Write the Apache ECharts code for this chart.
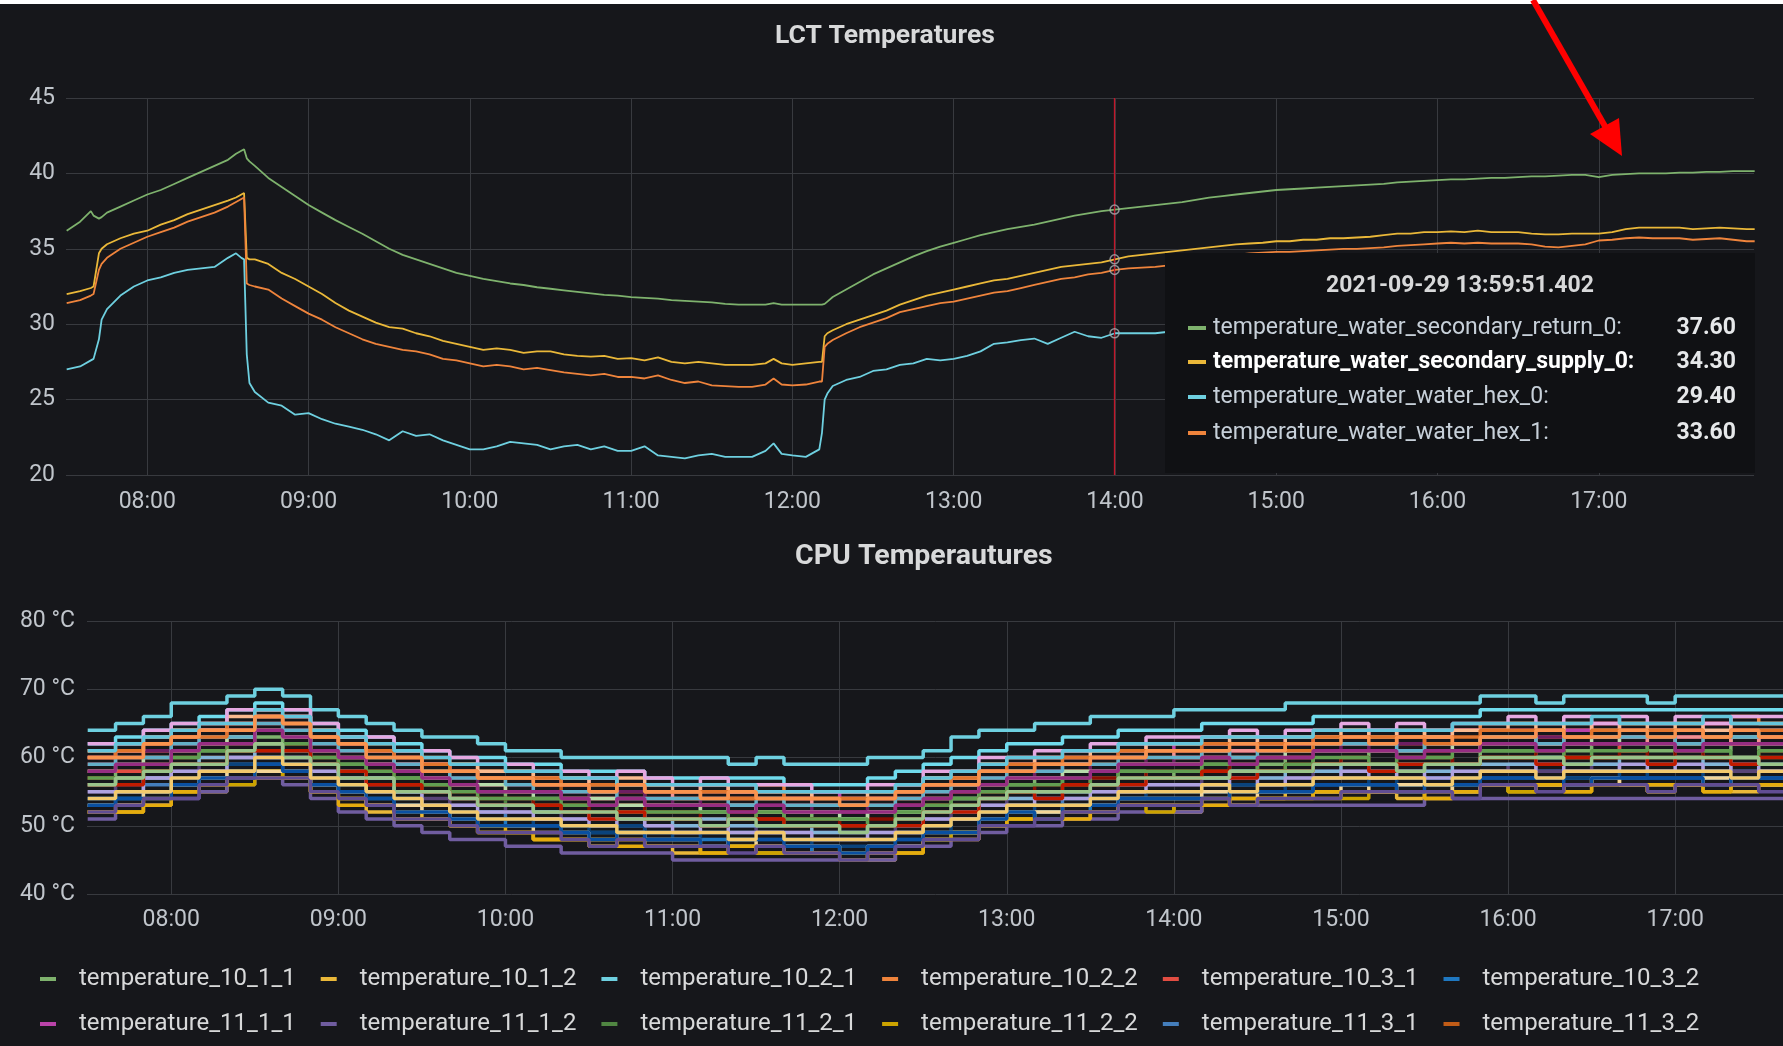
<!DOCTYPE html>
<html><head><meta charset="utf-8">
<script src="https://cdn.jsdelivr.net/npm/echarts@6/dist/echarts.min.js"></script>
<style>html,body{margin:0;padding:0;background:#16171b;}#c{width:1783px;height:1046px;}</style>
</head><body><div id="c"></div>
<script>
const DAY = '2021-09-29 ';
const axisMin = '07:29:45';
const axisMax = '17:57:45';

// ---------- LCT Temperatures ----------
const lctNames = ['temperature_water_secondary_return_0','temperature_water_secondary_supply_0','temperature_water_water_hex_0','temperature_water_water_hex_1'];
const lctTimes = [
 '07:30','07:35','07:39','07:40','07:42','07:43','07:45','07:50','07:55',
 '08:00','08:05','08:10','08:15','08:20','08:25','08:30','08:33','08:35','08:36','08:37','08:38','08:40','08:45','08:50','08:55',
 '09:00','09:05','09:10','09:15','09:20','09:25','09:30','09:35','09:40','09:45','09:50','09:55',
 '10:00','10:05','10:10','10:15','10:20','10:25','10:30','10:35','10:40','10:45','10:50','10:55',
 '11:00','11:05','11:10','11:15','11:20','11:25','11:30','11:35','11:40','11:45','11:50','11:53','11:56',
 '12:00','12:05','12:10','12:11','12:12','12:13','12:15','12:20','12:25','12:30','12:35','12:40','12:45','12:50','12:55',
 '13:00','13:05','13:10','13:15','13:20','13:25','13:30','13:35','13:40','13:45','13:50','13:55',
 '14:00','14:05','14:10','14:15','14:20','14:25','14:30','14:35','14:40','14:45','14:50','14:55',
 '15:00','15:05','15:10','15:15','15:20','15:25','15:30','15:35','15:40','15:45','15:50','15:55',
 '16:00','16:05','16:10','16:15','16:20','16:25','16:30','16:35','16:40','16:45','16:50','16:55',
 '17:00','17:05','17:10','17:15','17:20','17:25','17:30','17:35','17:40','17:45','17:50','17:55','17:58'];
const lctReturn0 = [
 36.2,36.8,37.5,37.2,37.0,37.1,37.4,37.8,38.2,
 38.6,38.9,39.3,39.7,40.1,40.5,40.9,41.3,41.5,41.6,41.0,40.8,40.5,39.7,39.1,38.5,
 37.9,37.4,36.9,36.45,36.0,35.5,35.0,34.6,34.3,34.0,33.7,33.4,
 33.2,33.0,32.85,32.7,32.6,32.45,32.35,32.25,32.15,32.05,31.95,31.9,
 31.8,31.75,31.7,31.6,31.55,31.5,31.45,31.35,31.3,31.3,31.3,31.4,31.3,
 31.3,31.3,31.3,31.3,31.35,31.5,31.8,32.3,32.8,33.3,33.7,34.1,34.5,34.85,35.15,
 35.4,35.65,35.9,36.1,36.3,36.45,36.6,36.8,37.0,37.2,37.35,37.5,
 37.6,37.7,37.8,37.9,38.0,38.1,38.25,38.4,38.5,38.6,38.7,38.8,
 38.9,38.95,39.0,39.05,39.1,39.15,39.2,39.25,39.3,39.4,39.45,39.5,
 39.55,39.6,39.6,39.65,39.7,39.7,39.75,39.8,39.8,39.85,39.9,39.9,
 39.75,39.9,39.95,40.0,40.0,40.0,40.05,40.05,40.1,40.1,40.15,40.15,40.15];
const lctSupply0 = [
 32.0,32.2,32.4,32.5,34.7,35.0,35.3,35.7,36.0,
 36.2,36.6,36.9,37.3,37.6,37.9,38.2,38.4,38.6,38.7,34.4,34.3,34.3,34.0,33.4,33.0,
 32.5,32.0,31.4,30.9,30.5,30.1,29.8,29.7,29.4,29.2,28.9,28.7,
 28.5,28.3,28.4,28.3,28.1,28.2,28.2,28.0,27.9,27.85,27.9,27.7,
 27.75,27.6,27.8,27.5,27.4,27.5,27.4,27.3,27.3,27.3,27.4,27.7,27.4,
 27.3,27.4,27.5,27.5,29.2,29.4,29.6,30.0,30.3,30.6,30.9,31.3,31.6,31.9,32.1,
 32.3,32.5,32.7,32.9,33.0,33.2,33.4,33.6,33.8,33.9,34.0,34.1,
 34.3,34.5,34.6,34.7,34.8,34.9,35.0,35.1,35.2,35.3,35.35,35.4,
 35.5,35.5,35.6,35.6,35.7,35.7,35.75,35.8,35.9,36.0,36.0,36.1,
 36.1,36.15,36.1,36.2,36.1,36.1,36.1,36.0,35.95,35.95,36.0,36.0,
 36.0,36.1,36.3,36.4,36.4,36.4,36.4,36.3,36.35,36.4,36.35,36.3,36.3];
const lctHex0 = [
 27.0,27.2,27.6,27.7,29.0,30.3,31.0,31.9,32.5,
 32.9,33.1,33.4,33.6,33.7,33.8,34.4,34.7,34.4,34.3,28.0,26.1,25.5,24.8,24.6,24.0,
 24.1,23.7,23.4,23.2,23.0,22.7,22.3,22.9,22.6,22.7,22.3,22.0,
 21.7,21.7,21.9,22.2,22.1,22.0,21.7,21.9,22.0,21.7,21.9,21.6,
 21.6,21.9,21.3,21.2,21.1,21.3,21.4,21.2,21.2,21.2,21.6,22.1,21.4,
 21.3,21.2,21.7,22.8,25.0,25.4,25.9,26.3,26.5,26.9,27.0,27.3,27.4,27.7,27.6,
 27.7,27.9,28.2,28.7,28.8,28.95,29.05,28.7,29.1,29.5,29.2,29.1,
 29.4,29.4,29.4,29.4,29.5,29.6,29.7,29.8,29.9,30.0,30.0,30.1,
 30.2,30.2,30.3,30.3,30.4,30.4,30.5,30.5,30.6,30.6,30.7,30.7,
 30.8,30.8,30.9,30.9,30.9,31.0,31.0,31.0,31.0,31.1,31.1,31.1,
 31.0,31.1,31.2,31.2,31.3,31.3,31.3,31.3,31.4,31.4,31.4,31.4,31.4];
const lctHex1 = [
 31.4,31.6,31.9,32.0,33.6,34.0,34.4,35.0,35.4,
 35.8,36.1,36.4,36.8,37.1,37.4,37.8,38.1,38.3,38.4,32.7,32.6,32.5,32.3,31.7,31.2,
 30.7,30.3,29.8,29.4,29.0,28.7,28.5,28.3,28.2,28.0,27.7,27.6,
 27.4,27.2,27.3,27.2,27.0,27.1,26.95,26.8,26.7,26.6,26.7,26.5,
 26.5,26.4,26.6,26.3,26.1,26.2,25.95,25.9,25.85,25.85,26.0,26.4,26.0,
 25.95,26.0,26.2,26.2,28.5,28.7,28.95,29.4,29.8,30.1,30.4,30.8,31.0,31.2,31.4,
 31.5,31.7,31.9,32.1,32.2,32.4,32.6,32.8,33.0,33.1,33.3,33.4,
 33.6,33.7,33.75,33.8,33.9,34.0,34.2,34.35,34.5,34.6,34.7,34.75,
 34.8,34.8,34.85,34.9,34.95,35.0,35.0,35.05,35.1,35.2,35.25,35.3,
 35.35,35.4,35.35,35.4,35.35,35.35,35.35,35.3,35.15,35.1,35.2,35.3,
 35.55,35.6,35.7,35.75,35.7,35.7,35.7,35.6,35.65,35.7,35.6,35.5,35.5];
const lctColors = ['#7EB26D','#EAB839','#6ED0E0','#EF843C'];
const lctTickLabels = [20,25,30,35,40,45];
const hoverTime = '2021-09-29 13:59:51.402';
const hoverValues = [37.60, 34.30, 29.40, 33.60];

// ---------- CPU Temperautures ----------
const cpuTimes = [
 '07:30','07:40','07:50',
 '08:00','08:10','08:20','08:30','08:40','08:50',
 '09:00','09:10','09:20','09:30','09:40','09:50',
 '10:00','10:10','10:20','10:30','10:40','10:50',
 '11:00','11:10','11:20','11:30','11:40','11:50',
 '12:00','12:10','12:20','12:30','12:40','12:50',
 '13:00','13:10','13:20','13:30','13:40','13:50',
 '14:00','14:10','14:20','14:30','14:40','14:50',
 '15:00','15:10','15:20','15:30','15:40','15:50',
 '16:00','16:10','16:20','16:30','16:40','16:50',
 '17:00','17:10','17:20','17:30','17:40','17:50'];
const t10_1_1 = [57,58,58, 60,61,61,63,62,60, 59,57,57,56,56,55, 54,53,53,54,53,52, 52,53,52,51,52,51, 51,52,52,53,54,55, 56,57,56,57,58,57, 58,59,58,59,60,59, 60,61,60,60,59,61, 61,60,61,62,61,61, 60,61,62,61,61,60];
const t10_1_2 = [52,53,53, 55,55,57,58,57,55, 54,52,52,51,50,49, 49,48,48,47,48,47, 46,47,47,46,47,46, 46,45,47,48,49,50, 51,52,51,52,53,53, 52,54,53,54,55,54, 55,55,54,55,56,56, 55,56,56,57,56,55, 56,56,55,56,57,56];
const t10_2_1 = [64,65,66, 68,68,69,70,69,67, 66,65,64,63,63,62, 61,61,60,60,60,60, 60,60,59,60,59,59, 59,60,60,61,63,64, 64,65,65,66,66,66, 67,67,67,67,68,68, 68,68,68,68,68,69, 69,68,69,69,69,68, 69,69,69,69,68,69];
const t10_2_2 = [61,62,62, 64,65,65,67,66,64, 63,62,60,60,59,58, 58,57,57,57,56,56, 56,56,55,56,55,55, 55,55,56,57,58,59, 60,60,61,61,62,62, 62,63,63,63,63,64, 64,64,63,64,64,65, 65,65,64,65,65,65, 65,65,66,65,65,65];
const t10_3_1 = [58,58,60, 61,62,63,64,63,61, 60,59,58,57,56,56, 55,55,54,54,54,53, 53,53,53,52,52,52, 52,52,53,54,55,56, 57,57,58,58,59,59, 59,60,60,60,60,61, 61,61,61,61,61,62, 62,62,62,62,61,62, 62,62,62,62,62,62];
const t10_3_2 = [53,54,55, 56,57,58,59,58,56, 55,54,53,52,51,51, 50,50,49,49,49,48, 48,48,47,47,47,46, 46,46,47,48,49,50, 51,52,52,53,54,54, 54,55,55,55,55,56, 56,56,56,56,56,57, 57,57,57,57,57,57, 57,57,57,57,57,57];
const t11_1_1 = [60,61,61, 63,64,65,66,66,63, 62,61,60,59,58,57, 57,57,56,57,56,55, 55,56,55,55,54,55, 54,54,55,56,57,58, 59,60,60,60,61,62, 61,62,62,63,62,63, 63,64,63,63,64,64, 64,63,64,65,64,64, 64,65,64,64,63,64];
const t11_1_2 = [51,52,53, 54,55,56,57,56,54, 52,51,50,49,48,48, 47,47,46,46,46,46, 45,45,45,45,45,45, 45,45,46,47,48,49, 50,50,51,51,52,52, 52,53,53,53,53,53, 53,53,53,54,54,54, 54,54,54,54,54,54, 54,54,54,54,54,54];
const t11_2_1 = [56,57,58, 59,60,61,62,61,59, 58,57,56,55,54,54, 53,53,52,52,52,51, 51,51,51,51,50,50, 50,50,51,52,53,54, 55,55,56,56,57,57, 57,58,58,58,58,59, 59,59,59,59,59,60, 60,60,60,60,60,60, 60,60,60,60,60,60];
const t11_2_2 = [52,52,54, 55,56,56,58,57,55, 54,53,51,51,50,49, 49,48,48,47,48,47, 47,46,47,46,46,46, 45,46,46,48,49,50, 51,51,52,52,53,52, 53,54,53,54,54,55, 54,55,55,54,55,56, 55,56,55,56,56,55, 56,55,56,56,56,55];
const t11_3_1 = [54,55,56, 57,58,59,60,59,57, 56,55,54,53,52,52, 51,51,50,50,50,49, 49,49,49,49,48,48, 48,48,49,50,51,52, 53,53,54,54,55,55, 55,56,56,56,56,57, 57,57,57,57,57,58, 58,58,58,58,58,58, 58,58,58,58,58,58];
const t11_3_2 = [59,60,61, 62,63,64,65,64,62, 61,60,59,58,57,57, 56,56,55,55,55,54, 54,54,54,54,53,53, 53,53,54,55,56,57, 58,58,59,59,60,60, 60,61,61,61,61,62, 62,62,62,62,62,63, 63,63,63,63,63,63, 63,63,63,63,63,63];
const t12_1_1 = [57,57,59, 60,60,62,62,62,60, 58,58,56,56,55,54, 54,53,53,52,53,52, 52,51,52,51,51,51, 50,51,51,53,53,55, 55,56,56,57,57,58, 58,58,59,58,59,59, 60,59,60,60,59,60, 60,61,60,60,61,60, 61,60,60,61,60,60];
const t12_1_2 = [54,54,55, 57,57,59,60,59,56, 55,55,53,53,52,51, 51,50,50,49,50,49, 48,49,48,48,48,47, 47,47,48,49,51,51, 52,53,53,54,54,55, 55,55,56,55,56,56, 56,57,56,57,57,57, 57,58,57,57,58,57, 57,58,57,58,57,57];
const t12_2_1 = [59,60,61, 62,63,64,65,64,62, 61,59,59,57,57,56, 56,55,55,54,55,54, 53,54,53,53,53,52, 52,53,53,55,56,57, 57,58,59,58,60,59, 60,60,61,61,60,61, 62,61,62,62,61,62, 62,63,62,62,63,62, 63,62,63,62,62,63];
const t12_2_2 = [55,56,57, 58,59,60,61,60,58, 57,56,55,54,53,53, 52,52,51,51,51,50, 50,50,50,49,49,49, 49,49,50,51,52,53, 54,54,55,55,56,56, 56,57,57,57,57,58, 58,58,58,58,58,58, 59,58,58,59,58,58, 58,59,58,58,59,58];
const t12_3_1 = [58,59,60, 61,62,63,64,63,61, 60,59,58,57,56,56, 55,54,54,54,53,53, 53,52,53,52,52,52, 51,52,52,54,54,56, 57,57,58,58,59,59, 59,60,60,60,61,61, 61,61,61,62,61,62, 62,62,62,63,62,62, 62,62,63,62,62,62];
const t12_3_2 = [53,53,55, 56,57,58,58,58,56, 55,53,53,52,51,50, 50,49,49,48,49,48, 48,47,48,47,47,47, 46,47,47,49,49,51, 52,52,53,53,54,54, 54,55,54,55,55,55, 56,55,56,56,55,56, 56,56,56,57,56,56, 56,57,56,56,56,57];
const t13_1_1 = [62,63,64, 65,66,67,68,67,65, 64,63,62,61,60,60, 59,59,58,58,58,57, 57,57,57,57,56,56, 56,57,58,59,60,61, 62,62,63,63,64,64, 64,65,65,65,65,66, 66,66,66,66,66,67, 67,67,67,67,67,67, 67,67,67,67,67,67];
const t13_1_2 = [61,61,63, 64,64,66,66,66,64, 63,61,61,59,59,58, 58,57,57,56,57,56, 55,56,55,55,55,54, 54,55,55,57,57,59, 59,60,60,61,61,62, 62,62,63,62,63,63, 64,63,64,63,64,64, 65,64,65,64,65,64, 65,64,65,65,64,65];
const t13_2_1 = [60,61,62, 63,64,64,66,65,63, 62,61,59,59,58,57, 57,56,56,55,56,55, 54,55,54,54,54,53, 53,54,54,56,56,58, 58,59,59,60,60,61, 60,61,61,62,61,62, 62,62,63,62,62,63, 63,62,63,63,63,62, 63,63,62,63,63,63];
const t13_2_2 = [56,57,57, 59,60,60,62,61,59, 58,57,55,55,54,53, 53,52,52,51,52,51, 50,51,50,50,50,49, 49,50,50,52,52,54, 54,55,55,56,56,57, 57,57,58,57,58,58, 59,58,59,58,59,59, 59,60,59,59,60,59, 60,59,60,59,60,60];
const t13_3_1 = [62,62,64, 65,65,67,67,67,65, 63,63,61,61,60,59, 59,58,58,57,58,57, 56,57,56,56,56,55, 55,56,56,58,58,60, 60,61,61,62,62,63, 63,63,64,63,64,64, 65,64,65,64,65,65, 66,65,66,65,66,65, 66,65,66,66,65,66];
const t13_3_2 = [55,55,57, 58,58,60,60,60,58, 57,55,55,53,53,52, 52,51,51,50,51,50, 49,50,49,49,49,48, 48,49,49,51,51,53, 53,54,54,55,55,56, 56,56,57,56,57,57, 58,57,58,57,58,58, 58,59,58,58,59,58, 59,58,59,58,59,58];
const t14_1_1 = [57,57,59, 60,61,62,62,62,60, 59,58,57,56,55,54, 54,54,53,53,52,52, 52,52,51,52,51,51, 51,50,52,53,54,55, 56,56,57,56,58,58, 58,59,59,58,59,60, 60,59,60,60,61,61, 61,61,60,61,61,62, 61,61,60,61,62,61];
const t14_1_2 = [52,52,53, 55,56,57,57,57,55, 53,53,51,51,50,50, 49,48,48,48,47,47, 47,46,47,47,46,46, 46,46,46,48,48,50, 51,51,51,52,53,53, 53,53,54,54,54,55, 55,55,55,54,55,56, 56,56,55,56,56,56, 56,55,56,56,56,56];
const t14_2_1 = [59,60,60, 62,63,63,65,64,62, 61,60,59,58,57,57, 56,55,55,55,54,54, 54,54,53,54,53,53, 53,53,54,55,56,57, 58,58,59,59,60,60, 60,61,60,61,61,62, 62,62,61,62,62,63, 63,62,63,63,63,63, 62,63,63,64,63,63];
const t14_2_2 = [60,61,62, 63,63,65,66,65,63, 62,61,60,59,58,57, 57,57,56,56,56,55, 55,55,54,55,54,54, 54,54,55,56,57,58, 59,59,60,60,61,61, 61,62,62,62,61,63, 63,63,63,62,63,64, 64,64,63,64,64,64, 64,63,64,64,64,65];
const t14_3_1 = [56,56,58, 59,59,61,61,61,59, 58,56,56,55,54,53, 53,53,52,51,52,51, 51,50,51,51,50,50, 50,50,50,52,52,54, 55,54,56,56,56,57, 57,58,57,58,58,59, 59,58,59,59,59,60, 60,59,60,60,60,59, 60,60,59,60,60,60];
const t14_3_2 = [53,54,54, 56,57,57,59,58,56, 55,54,52,52,51,50, 50,50,49,48,49,48, 48,47,48,48,47,47, 46,47,48,49,49,51, 52,51,53,53,54,54, 54,54,55,55,55,56, 56,56,55,56,56,57, 57,57,56,57,57,57, 57,56,57,57,57,57];
const t15_1_1 = [58,59,59, 61,62,62,64,63,61, 60,59,58,57,56,55, 55,55,54,53,54,53, 53,53,52,53,52,52, 52,52,53,54,55,56, 57,57,57,58,59,59, 59,60,59,60,60,61, 61,61,60,61,61,62, 62,61,62,62,62,62, 61,62,62,62,63,62];
const t15_1_2 = [52,53,54, 54,56,57,57,57,55, 54,53,51,51,50,49, 49,49,48,47,48,47, 47,47,46,47,46,46, 45,46,47,48,48,50, 50,51,52,52,53,53, 53,54,53,54,54,54, 55,55,55,55,54,56, 56,55,56,56,56,55, 56,56,56,55,56,56];
const t15_2_1 = [56,57,58, 59,59,61,62,60,59, 57,57,55,55,54,53, 53,52,52,52,51,51, 51,50,51,50,50,50, 49,50,51,52,53,54, 55,55,55,56,57,57, 57,57,58,58,58,59, 59,59,58,59,59,60, 60,60,59,60,60,60, 60,60,60,59,60,60];
const t15_2_2 = [54,55,55, 57,58,58,60,59,57, 56,55,54,53,52,51, 51,51,50,50,49,49, 49,49,48,49,48,48, 48,48,49,50,51,52, 53,53,53,54,55,55, 55,56,55,56,56,57, 57,57,57,56,57,58, 58,57,58,58,58,58, 58,58,57,58,58,58];
const t15_3_1 = [61,62,63, 64,65,65,67,66,64, 63,62,61,60,59,59, 58,58,57,57,56,56, 56,56,56,55,55,55, 55,55,56,57,58,59, 60,60,61,61,62,62, 62,63,63,63,63,64, 64,64,64,64,65,65, 65,65,65,66,65,65, 65,66,65,65,66,65];
const t15_3_2 = [60,60,62, 63,64,64,66,65,63, 62,60,60,58,58,57, 57,56,56,55,56,55, 55,54,55,54,54,54, 53,54,55,56,56,58, 58,59,59,60,60,61, 61,61,62,61,62,62, 63,62,63,63,62,63, 63,64,63,63,64,63, 64,63,64,63,64,64];
const cpuNames = ['temperature_10_1_1','temperature_10_1_2','temperature_10_2_1','temperature_10_2_2','temperature_10_3_1','temperature_10_3_2',
 'temperature_11_1_1','temperature_11_1_2','temperature_11_2_1','temperature_11_2_2','temperature_11_3_1','temperature_11_3_2',
 'temperature_12_1_1','temperature_12_1_2','temperature_12_2_1','temperature_12_2_2','temperature_12_3_1','temperature_12_3_2',
 'temperature_13_1_1','temperature_13_1_2','temperature_13_2_1','temperature_13_2_2','temperature_13_3_1','temperature_13_3_2',
 'temperature_14_1_1','temperature_14_1_2','temperature_14_2_1','temperature_14_2_2','temperature_14_3_1','temperature_14_3_2',
 'temperature_15_1_1','temperature_15_1_2','temperature_15_2_1','temperature_15_2_2','temperature_15_3_1','temperature_15_3_2'];
const cpuValues = [t10_1_1,t10_1_2,t10_2_1,t10_2_2,t10_3_1,t10_3_2,t11_1_1,t11_1_2,t11_2_1,t11_2_2,t11_3_1,t11_3_2,
 t12_1_1,t12_1_2,t12_2_1,t12_2_2,t12_3_1,t12_3_2,t13_1_1,t13_1_2,t13_2_1,t13_2_2,t13_3_1,t13_3_2,
 t14_1_1,t14_1_2,t14_2_1,t14_2_2,t14_3_1,t14_3_2,t15_1_1,t15_1_2,t15_2_1,t15_2_2,t15_3_1,t15_3_2];
const cpuColors = ['#7EB26D','#EAB839','#6ED0E0','#EF843C','#E24D42','#1F78C1','#BA43A9','#705DA0','#508642','#CCA300','#447EBC','#C15C17',
 '#890F02','#0A437C','#6D1F62','#584477','#B7DBAB','#F4D598','#70DBED','#F9BA8F','#F29191','#82B5D8','#E5A8E2','#AEA2E0',
 '#629E51','#E5AC0E','#64B0C8','#E0752D','#BF1B00','#0A50A1','#962D82','#614D93','#9AC48A','#F2C96D','#65C5DB','#F9934E'];
const cpuLegendCount = 12;
const cpuTickLabels = [40,50,60,70,80];

// ---------- build ----------
const FONT = 'Roboto, "Noto Sans", sans-serif';
const labelColor = '#c0c5cb';
const gridColor = '#383a3f';
const pad2 = n => (n < 10 ? '0' : '') + n;
const hm = v => { const d = new Date(v); return pad2(d.getHours()) + ':' + pad2(d.getMinutes()); };
const T = s => echarts.time.parse(DAY + s);
const hoverTs = echarts.time.parse(hoverTime);

function timeAxis(gridIndex, margin) {
  return {
    type: 'time', gridIndex, min: T(axisMin), max: T(axisMax),
    minInterval: 3600000, maxInterval: 3600000,
    axisLine: {show: false}, axisTick: {show: false},
    axisLabel: {color: labelColor, fontSize: 23, fontFamily: FONT, margin, formatter: hm, showMinLabel: false, showMaxLabel: false},
    splitLine: {show: true, showMinLine: false, showMaxLine: false, lineStyle: {color: gridColor, width: 1}}
  };
}
function valueAxis(gridIndex, ticks, fmt, margin) {
  return {
    type: 'value', gridIndex, min: ticks[0], max: ticks[ticks.length - 1], interval: ticks[1] - ticks[0],
    axisLine: {show: false}, axisTick: {show: false},
    axisLabel: {color: labelColor, fontSize: 23, fontFamily: FONT, margin, formatter: fmt},
    splitLine: {show: true, lineStyle: {color: gridColor, width: 1}}
  };
}

const series = [];
lctNames.forEach((n, i) => {
  const vals = [lctReturn0, lctSupply0, lctHex0, lctHex1][i];
  const s = {
    name: n, type: 'line', xAxisIndex: 0, yAxisIndex: 0, symbol: 'none', showSymbol: false,
    lineStyle: {width: 1.8, color: lctColors[i]}, itemStyle: {color: lctColors[i]},
    data: lctTimes.map((t, j) => [T(t), vals[j]]), z: 3
  };
  if (i === 0) {
    s.markLine = {silent: true, symbol: ['none', 'none'], label: {show: false},
      lineStyle: {color: '#c4162a', width: 1.3, type: 'solid'}, data: [{xAxis: hoverTs}], z: 4};
  }
  series.push(s);
});
series.push({
  name: 'hover', type: 'scatter', xAxisIndex: 0, yAxisIndex: 0, silent: true, z: 6,
  symbol: 'circle', symbolSize: 9,
  itemStyle: {color: 'rgba(0,0,0,0)', borderColor: '#a9adb2', borderWidth: 1.5},
  data: hoverValues.map(v => [hoverTs, v])
});
cpuNames.forEach((n, i) => {
  series.push({
    name: n, type: 'line', xAxisIndex: 1, yAxisIndex: 1, symbol: 'none', showSymbol: false, step: 'end',
    lineStyle: {width: 3.5, color: cpuColors[i]}, itemStyle: {color: cpuColors[i]},
    data: cpuTimes.map((t, j) => [T(t), cpuValues[i][j]]), z: 3
  });
});

// Grafana-style hover tooltip drawn as graphic elements
const tipX = 1165, tipY = 253, tipW = 590, tipH = 220;
const rowY = [328, 362, 397, 433];
const graphics = [
  {type: 'rect', z: 100, shape: {x: tipX, y: tipY, width: tipW, height: tipH}, style: {fill: '#101114'}},
  {type: 'text', z: 101, x: 1460, y: 286, style: {text: hoverTime, fill: '#d8d9da', font: 'bold 23px ' + FONT, align: 'center', verticalAlign: 'middle'}}
];
lctNames.forEach((n, i) => {
  const bold = i === 1;
  graphics.push({type: 'rect', z: 101, shape: {x: 1188, y: rowY[i] - 2, width: 18, height: 4}, style: {fill: lctColors[i]}});
  graphics.push({type: 'text', z: 101, x: 1213, y: rowY[i], style: {text: n + ':', fill: bold ? '#ffffff' : '#c7d0d9', font: (bold ? 'bold ' : '') + '23px ' + FONT, align: 'left', verticalAlign: 'middle'}});
  graphics.push({type: 'text', z: 101, x: 1736, y: rowY[i], style: {text: hoverValues[i].toFixed(2), fill: '#e6e8ea', font: 'bold 23px ' + FONT, align: 'right', verticalAlign: 'middle'}});
});
// white strip at top edge of screenshot
graphics.push({type: 'rect', z: 120, shape: {x: 0, y: 0, width: 1783, height: 4}, style: {fill: '#ffffff'}});
// red annotation arrow
graphics.push({type: 'line', z: 121, shape: {x1: 1533, y1: 0, x2: 1606, y2: 128}, style: {stroke: '#ff0000', lineWidth: 6}});
graphics.push({type: 'polygon', z: 121, shape: {points: [[1590, 134], [1619, 118], [1622, 156]]}, style: {fill: '#ff0000'}});

const chart = echarts.init(document.getElementById('c'), null, {renderer: 'canvas'});
chart.setOption({
  animation: false,
  backgroundColor: '#16171b',
  title: [
    {text: 'LCT Temperatures', left: 775, top: 21, padding: 0, textStyle: {color: '#d8d9da', fontSize: 26.5, fontWeight: 'bold', fontFamily: FONT, lineHeight: 30}},
    {text: 'CPU Temperautures', left: 795, top: 542, padding: 0, textStyle: {color: '#d8d9da', fontSize: 28.5, fontWeight: 'bold', fontFamily: FONT, lineHeight: 30}}
  ],
  grid: [
    {left: 66, right: 29, top: 98, bottom: 571, containLabel: false, outerBoundsMode: 'none'},
    {left: 87, right: -53, top: 621, bottom: 152, containLabel: false, outerBoundsMode: 'none'}
  ],
  xAxis: [timeAxis(0, 16), timeAxis(1, 15)],
  yAxis: [valueAxis(0, lctTickLabels, '{value}', 11), valueAxis(1, cpuTickLabels, '{value} °C', 12)],
  legend: {
    data: cpuNames.slice(0, cpuLegendCount), left: 40, top: 967, width: 1720, padding: 0,
    itemGap: 21, itemWidth: 16, itemHeight: 4, icon: 'rect', selectedMode: false,
    textStyle: {color: '#d8d9da', fontSize: 24, fontFamily: FONT, lineHeight: 17, padding: [0, 4, 0, 18]}
  },
  graphic: graphics,
  series
});
</script>
</body></html>
